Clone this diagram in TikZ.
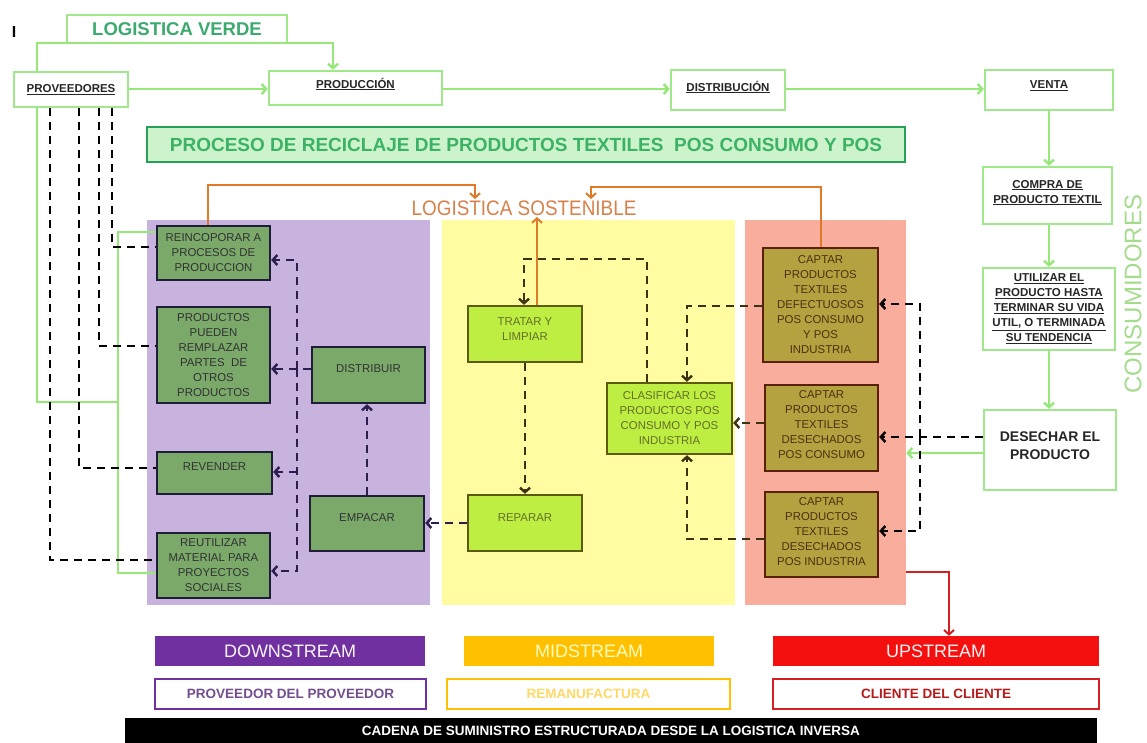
\documentclass[tikz,border=0pt]{standalone}
\usepackage{fontspec}
\setmainfont{Liberation Sans}
\newfontfamily\narrowf[FakeStretch=0.9]{Liberation Sans}
\usetikzlibrary{arrows.meta,calc}
\definecolor{lgb}{RGB}{160,232,140}
\definecolor{lgl}{RGB}{150,232,120}
\definecolor{vtext}{RGB}{60,170,110}
\definecolor{procf}{RGB}{205,243,205}
\definecolor{procd}{RGB}{40,160,85}
\definecolor{procT}{RGB}{60,178,100}
\definecolor{purf}{RGB}{200,179,222}
\definecolor{yelf}{RGB}{255,252,162}
\definecolor{salf}{RGB}{248,173,157}
\definecolor{gbf}{RGB}{122,169,106}
\definecolor{gbd}{RGB}{30,30,54}
\definecolor{gbt}{RGB}{50,50,50}
\definecolor{ybf}{RGB}{190,238,66}
\definecolor{ybd}{RGB}{92,90,18}
\definecolor{ybt}{RGB}{100,112,40}
\definecolor{obf}{RGB}{180,162,64}
\definecolor{obd}{RGB}{90,32,12}
\definecolor{obt}{RGB}{78,48,16}
\definecolor{pdash}{RGB}{43,29,78}
\definecolor{odash}{RGB}{58,50,20}
\definecolor{orng}{RGB}{224,122,40}
\definecolor{sost}{RGB}{216,128,74}
\definecolor{redl}{RGB}{212,32,32}
\definecolor{cons}{RGB}{164,220,140}
\definecolor{dsf}{RGB}{112,48,160}
\definecolor{msf}{RGB}{255,192,0}
\definecolor{usf}{RGB}{245,16,16}
\newcommand{\uln}[1]{\underline{#1}}
\tikzset{
  region/.style={draw=none, inner sep=0pt},
  bx/.style={draw, line width=2.4pt, inner sep=2pt, align=center},
  topbox/.style={bx, draw=lgb, fill=white, text=black!85, font=\bfseries\fontsize{11.5}{15}\selectfont},
  gbox/.style={bx, draw=gbd, fill=gbf, text=gbt, font=\fontsize{11.4}{15}\selectfont},
  ybox/.style={bx, draw=ybd, fill=ybf, text=ybt, font=\fontsize{11.4}{15}\selectfont},
  obox/.style={bx, draw=obd, fill=obf, text=obt, font=\fontsize{11.4}{15}\selectfont},
  legbox/.style={draw=none, inner sep=0pt, minimum height=30pt},
  legline/.style={line width=2.4pt, fill=white, inner sep=0pt, minimum height=30pt, font=\bfseries\fontsize{13.5}{16}\selectfont},
  arr/.style={-{Straight Barb[length=4.5pt,width=10pt]}},
  gline/.style={draw=lgl, line width=2.4pt},
  dsh/.style={line width=2.4pt, dash pattern=on 8pt off 6pt},
  oline/.style={draw=orng, line width=2pt},
  rline/.style={draw=redl, line width=2pt},
}
\begin{document}
\begin{tikzpicture}[x=1pt,y=-1pt]
\useasboundingbox (0,0) rectangle (1147,742);
% regions
\node[region, fill=purf, minimum width=283pt, minimum height=385pt] (purple) at (288.5,412.5) {};
\node[region, fill=yelf, minimum width=293pt, minimum height=385pt] (yellow) at (588.5,412.5) {};
\node[region, fill=salf, minimum width=161pt, minimum height=385pt] (salmon) at (825.5,412.5) {};

% corner mark
\node[font=\bfseries\fontsize{16}{16}\selectfont, inner sep=0pt] (imark) at (14,32) {I};

% top row
\node[bx, draw=lgb, fill=white, text=vtext, font=\bfseries\fontsize{18.5}{20}\selectfont, minimum width=220pt, minimum height=28pt] (verde) at (177,29) {LOGISTICA VERDE};
\node[topbox, minimum width=114pt, minimum height=35pt] (prov) at (71,89.5) {\uln{PROVEEDORES}};
\node[topbox, minimum width=173pt, minimum height=34pt, text depth=10pt] (prod) at (355.5,88) {\uln{PRODUCCIÓN}};
\node[topbox, minimum width=114pt, minimum height=40pt, text depth=8pt] (distr) at (728,90) {\uln{DISTRIBUCIÓN}};
\node[topbox, minimum width=128pt, minimum height=40pt, text depth=10pt] (venta) at (1049,90) {\uln{VENTA}};
\node[topbox, minimum width=129pt, minimum height=57pt, text depth=8pt] (compra) at (1047.5,195.5) {\uln{COMPRA DE}\\\uln{PRODUCTO TEXTIL}};
\node[topbox, minimum width=132pt, minimum height=82pt] (util) at (1049,309) {\uln{UTILIZAR EL}\\\uln{PRODUCTO HASTA}\\\uln{TERMINAR SU VIDA}\\\uln{UTIL, O TERMINADA}\\\uln{SU TENDENCIA}};
\node[topbox, font=\bfseries\fontsize{14}{18}\selectfont, minimum width=132pt, minimum height=80pt, text depth=8pt] (desech) at (1050,450) {DESECHAR EL\\PRODUCTO};

% title
\node[bx, draw=procd, fill=procf, text=procT, font=\bfseries\fontsize{19}{20}\selectfont, minimum width=758pt, minimum height=35pt] (proceso) at (526,144.5) {PROCESO DE RECICLAJE DE PRODUCTOS TEXTILES\ \ POS CONSUMO Y POS};

\node[text=sost, font=\narrowf\fontsize{21}{22}\selectfont, inner sep=0pt] (sostenible) at (524,208) {LOGISTICA SOSTENIBLE};
\node[text=cons, font=\fontsize{24}{25}\selectfont, rotate=90, inner sep=0pt] (consum) at (1133,294) {CONSUMIDORES};

% purple boxes
\node[gbox, minimum width=113pt, minimum height=54pt] (reinc) at (213.5,253) {REINCOPORAR A\\PROCESOS DE\\PRODUCCION};
\node[gbox, minimum width=113pt, minimum height=96pt] (prodx) at (213.5,355) {PRODUCTOS\\PUEDEN\\REMPLAZAR\\PARTES\ \ DE\\OTROS\\PRODUCTOS};
\node[gbox, minimum width=115pt, minimum height=42pt, text depth=12pt] (rev) at (214.5,473) {REVENDER};
\node[gbox, minimum width=113pt, minimum height=65pt] (reut) at (213.5,565.5) {REUTILIZAR\\MATERIAL PARA\\PROYECTOS\\SOCIALES};
\node[gbox, minimum width=113pt, minimum height=56pt, text depth=12pt] (dist) at (368.5,375) {DISTRIBUIR};
\node[gbox, minimum width=114pt, minimum height=55pt, text depth=11pt] (emp) at (367,523.5) {EMPACAR};

% yellow boxes
\node[ybox, minimum width=114pt, minimum height=56pt, text depth=10pt] (trat) at (525,334) {TRATAR Y\\LIMPIAR};
\node[ybox, minimum width=114pt, minimum height=56pt, text depth=10pt] (rep) at (525,523) {REPARAR};
\node[ybox, minimum width=125pt, minimum height=71pt] (clas) at (669.5,418.5) {CLASIFICAR LOS\\PRODUCTOS POS\\CONSUMO Y POS\\INDUSTRIA};

% salmon boxes
\node[obox, minimum width=115pt, minimum height=114pt] (c1) at (820.5,305) {CAPTAR\\PRODUCTOS\\TEXTILES\\DEFECTUOSOS\\POS CONSUMO\\Y POS\\INDUSTRIA};
\node[obox, minimum width=113pt, minimum height=86pt, text depth=6pt] (c2) at (821.5,428) {CAPTAR\\PRODUCTOS\\TEXTILES\\DESECHADOS\\POS CONSUMO};
\node[obox, minimum width=113pt, minimum height=85pt, text depth=5pt] (c3) at (821.5,534.5) {CAPTAR\\PRODUCTOS\\TEXTILES\\DESECHADOS\\POS INDUSTRIA};

% legend
\node[legbox, fill=dsf, text=white!95!dsf, font=\fontsize{18}{20}\selectfont, minimum width=270pt] (downs) at (290,651) {DOWNSTREAM};
\node[legbox, fill=msf, text=yellow!25!white, font=\fontsize{18}{20}\selectfont, minimum width=250pt] (mids) at (589,651) {MIDSTREAM};
\node[legbox, fill=usf, text=white!95!red, font=\fontsize{18}{20}\selectfont, minimum width=326pt] (ups) at (936,651) {UPSTREAM};
\node[legline, draw=dsf, text=dsf!70!black!80, minimum width=271pt] (provprov) at (290.5,694) {PROVEEDOR DEL PROVEEDOR};
\node[legline, draw=msf, text=msf!60!white, minimum width=283pt] (reman) at (588.5,694) {REMANUFACTURA};
\node[legline, draw=redl, text=redl!85!black, minimum width=326pt] (cliente) at (936,694) {CLIENTE DEL CLIENTE};
\node[fill=black, text=white, inner sep=0pt, minimum width=972pt, minimum height=26pt, font=\bfseries\fontsize{13.5}{15}\selectfont] (cadena) at (611,731) {CADENA DE SUMINISTRO ESTRUCTURADA DESDE LA LOGISTICA INVERSA};

% coordinates
\coordinate (gva) at (37,43);
\coordinate (gvb) at (333,43);
\coordinate (gl1) at (37,402);
\coordinate (gl2) at (118,402);
\coordinate (gl3) at (118,232);
\coordinate (gl4) at (118,573);
\coordinate (bd1) at (112,247);
\coordinate (bd2) at (99,346);
\coordinate (bd3) at (79,468);
\coordinate (bd4) at (50,560);
\coordinate (trA) at (297,260);
\coordinate (trM) at (297,369);
\coordinate (trC) at (297,472);
\coordinate (trB) at (297,571);
\coordinate (ct1) at (647,259);
\coordinate (ct2) at (524,259);
\coordinate (cc1) at (687,306);
\coordinate (cc3) at (687,539);
\coordinate (dt1) at (920,304);
\coordinate (dt2) at (920,437);
\coordinate (dt3) at (920,531);
\coordinate (o1) at (208,185);
\coordinate (o2) at (475,185);
\coordinate (o2e) at (475,199);
\coordinate (o3) at (820,187);
\coordinate (o4) at (591,187);
\coordinate (o4e) at (591,199);
\coordinate (o5) at (537,217);
\coordinate (r1) at (949,572);

% green connectors
\draw[gline,arr] (prov.east |- 0,89) -- (prod.west |- 0,89);
\draw[gline,arr] (prod.east |- 0,89) -- (distr.west |- 0,89);
\draw[gline,arr] (distr.east |- 0,89) -- (venta.west |- 0,89);
\draw[gline,arr] (venta.south) -- (venta.south |- compra.north);
\draw[gline,arr] (compra.south -| venta.south) -- (venta.south |- util.north);
\draw[gline,arr] (util.south -| venta.south) -- (venta.south |- desech.north);
\draw[gline,arr] (desech.west |- 0,453) -- (salmon.east |- 0,453);
\draw[gline,arr] (prov.north -| gva) -- (gva) -- (gvb) -- (prod.north -| gvb);
\draw[gline] (prov.south -| gl1) -- (gl1) -- (gl2);
\draw[gline] (reinc.west |- gl3) -- (gl3) -- (gl4) -- (reut.west |- gl4);

% black dashed from PROVEEDORES
\draw[dsh] (prov.south -| bd1) -- (bd1) -- (reinc.west |- bd1);
\draw[dsh] (prov.south -| bd2) -- (bd2) -- (prodx.west |- bd2);
\draw[dsh] (prov.south -| bd3) -- (bd3) -- (rev.west |- bd3);
\draw[dsh] (prov.south -| bd4) -- (bd4) -- (reut.west |- bd4);

% purple dashed (distribuir)
\draw[dsh, draw=pdash, arr] (dist.west |- trM) -- (prodx.east |- trM);
\draw[dsh, draw=pdash, arr] (trM) -- (trA) -- (reinc.east |- trA);
\draw[dsh, draw=pdash, arr] (trM) -- (trB) -- (reut.east |- trB);
\draw[dsh, draw=pdash, arr] (trC) -- (rev.east |- trC);
\draw[dsh, draw=pdash, arr] (emp.north) -- (emp.north |- dist.south);
\draw[dsh, draw=pdash, arr] (rep.west) -- (rep.west -| emp.east);

% olive dashed
\draw[dsh, draw=odash, arr] (trat.south) -- (trat.south |- rep.north);
\draw[dsh, draw=odash, arr] (clas.north -| ct1) -- (ct1) -- (ct2) -- (trat.north -| ct2);
\draw[dsh, draw=odash, arr] (c1.west |- cc1) -- (cc1) -- (clas.north -| cc1);
\draw[dsh, draw=odash, arr] (c2.west |- 0,423) -- (clas.east |- 0,423);
\draw[dsh, draw=odash, arr] (c3.west |- cc3) -- (cc3) -- (clas.south -| cc3);

% black dashed from DESECHAR
\draw[dsh, arr] (desech.west |- dt2) -- (c2.east |- dt2);
\draw[dsh, arr] (dt2) -- (dt1) -- (c1.east |- dt1);
\draw[dsh, arr] (dt2) -- (dt3) -- (c3.east |- dt3);

% orange
\draw[oline, arr] (reinc.north -| o1) -- (o1) -- (o2) -- (o2e);
\draw[oline, arr] (c1.north) -- (c1.north |- o3) -- (o4) -- (o4e);
\draw[oline, arr] (trat.north -| o5) -- (o5);

% red
\draw[rline, arr] (salmon.east |- r1) -- (r1) -- (r1 |- ups.north);
\end{tikzpicture}
\end{document}
